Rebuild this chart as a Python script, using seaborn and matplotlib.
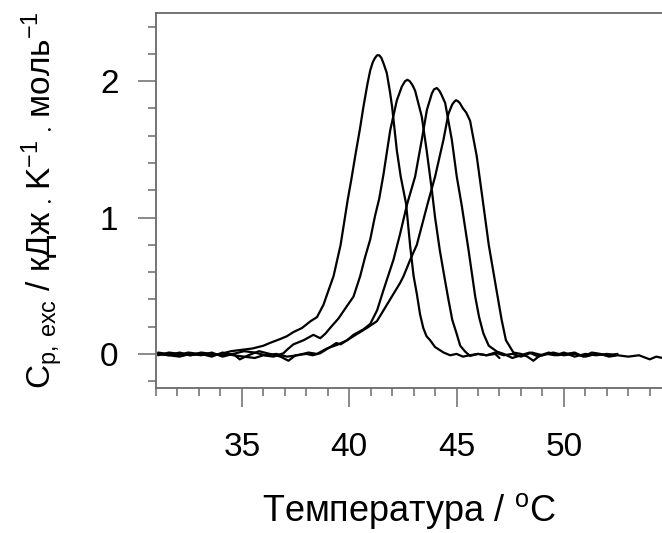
import numpy as np
import pandas as pd
import seaborn as sns
import matplotlib.pyplot as plt
from matplotlib.ticker import MultipleLocator

# DSC curves
T1 = [31.1, 31.5, 32.0, 32.5, 33.0, 33.5, 34.0, 34.5, 35.0, 35.5, 36.0, 36.3, 36.8,
      37.1, 37.4, 37.8, 38.2, 38.5, 38.8, 39.0, 39.27, 39.6, 39.93, 40.1, 40.3, 40.5,
      40.66, 40.85, 40.98, 41.1, 41.2, 41.3, 41.4, 41.5, 41.6, 41.75, 41.9, 42.0, 42.22,
      42.4, 42.65, 42.84, 43.0, 43.15, 43.3, 43.45, 43.6, 43.77, 44.0, 44.2, 44.4, 44.7,
      45.0, 45.3, 45.6, 46.0, 46.4, 46.8, 47.0]
Cp1 = [0.01, 0.0, -0.01, 0.01, 0.0, -0.01, 0.0, 0.02, 0.03, 0.04, 0.06, 0.08, 0.11,
       0.13, 0.16, 0.19, 0.24, 0.27, 0.36, 0.45, 0.57, 0.80, 1.13, 1.28, 1.47, 1.65,
       1.81, 1.98, 2.08, 2.14, 2.17, 2.19, 2.19, 2.17, 2.13, 2.06, 1.92, 1.81, 1.49,
       1.30, 1.10, 0.79, 0.57, 0.44, 0.29, 0.19, 0.13, 0.10, 0.05, 0.03, 0.01, -0.01,
       0.0, -0.02, -0.01, 0.0, -0.01, 0.0, -0.03]

T2 = [31.1, 31.6, 32.1, 32.6, 33.1, 33.6, 34.1, 34.6, 35.1, 35.6, 36.0, 36.47, 36.94,
      37.1, 37.4, 37.87, 38.1, 38.33, 38.65, 38.9, 39.11, 39.5, 39.89, 40.2, 40.51,
      40.74, 40.98, 41.2, 41.4, 41.6, 41.91, 42.22, 42.45, 42.6, 42.71, 42.82, 42.95,
      43.07, 43.38, 43.61, 43.85, 44.0, 44.22, 44.45, 44.62, 44.8, 45.0, 45.17, 45.4,
      45.63, 46.0, 46.4, 46.8, 47.2, 47.6, 48.0, 48.5, 49.0, 49.5, 50.0, 50.5, 51.0,
      51.5, 52.0, 52.5]
Cp2 = [0.0, -0.01, 0.01, -0.01, 0.0, -0.02, 0.01, -0.01, -0.02, -0.03, -0.01, -0.02,
       0.005, 0.03, 0.07, 0.10, 0.12, 0.14, 0.115, 0.15, 0.19, 0.26, 0.35, 0.42, 0.57,
       0.71, 0.84, 1.01, 1.14, 1.32, 1.64, 1.86, 1.96, 2.00, 2.01, 2.00, 1.97,
       1.93, 1.74, 1.49, 1.20, 1.00, 0.76, 0.55, 0.40, 0.25, 0.15, 0.06, 0.017,
       -0.015, 0.0, -0.01, 0.01, -0.01, 0.0, -0.02, 0.01, -0.01, 0.01, -0.01, 0.0, -0.02,
       0.0, -0.01, 0.0]

T3 = [31.1, 31.6, 32.1, 32.6, 33.1, 33.6, 34.1, 34.6, 35.1, 35.6, 36.1, 36.6, 37.1,
      37.6, 38.1, 38.5, 38.96, 39.43, 39.9, 40.2, 40.66, 40.98, 41.3, 41.6, 42.06,
      42.37, 42.7, 43.07, 43.38, 43.62, 43.85, 43.95, 44.08, 44.2, 44.3, 44.47, 44.78,
      45.01, 45.25, 45.56, 45.87, 46.05, 46.25, 46.5, 46.88, 47.2, 47.6, 48.0, 48.4,
      48.8, 49.2, 49.6, 50.0, 50.5, 51.0, 51.5, 52.0, 52.4]
Cp3 = [-0.01, 0.01, 0.0, -0.01, 0.01, 0.0, -0.01, 0.0, 0.02, 0.01, -0.01, 0.0, -0.02,
       -0.01, 0.01, 0.0, 0.04, 0.066, 0.10, 0.14, 0.18, 0.22, 0.32, 0.47, 0.69,
       0.88, 1.10, 1.30, 1.57, 1.79, 1.91, 1.94, 1.95, 1.93, 1.90, 1.84, 1.57,
       1.30, 1.08, 0.76, 0.42, 0.27, 0.15, 0.06, 0.017, 0.0, -0.03, -0.01, 0.01,
       -0.02, 0.0, -0.01, 0.01, -0.02, 0.0, -0.01, 0.0, -0.01]

T4 = [31.1, 31.6, 32.1, 32.6, 33.1, 33.6, 34.1, 34.6, 34.9, 35.3, 35.8, 36.3, 36.8,
      37.17, 37.5, 38.0, 38.3, 38.65, 39.11, 39.4, 39.6, 40.2, 40.82, 41.29, 41.6,
      42.06, 42.37, 42.53, 42.84, 43.15, 43.4, 43.65, 44.0, 44.39, 44.62, 44.8, 44.9,
      44.97, 45.05, 45.15, 45.3, 45.45, 45.63, 45.94, 46.2, 46.5, 46.88, 47.1, 47.3,
      47.65, 48.0, 48.3, 48.58, 48.9, 49.3, 49.7, 50.1, 50.5, 50.9, 51.3, 51.7, 52.1,
      52.5, 53.0, 53.5, 54.0, 54.3, 54.6]
Cp4 = [0.0, -0.01, -0.02, 0.0, -0.01, 0.01, -0.02, 0.0, -0.04, -0.01, 0.02, 0.0, -0.02,
       -0.05, -0.01, 0.0, -0.01, 0.005, 0.05, 0.08, 0.07, 0.13, 0.19, 0.24, 0.32,
       0.44, 0.52, 0.57, 0.69, 0.80, 0.95, 1.10, 1.30, 1.57, 1.76, 1.83, 1.85,
       1.86, 1.855, 1.84, 1.80, 1.77, 1.71, 1.45, 1.15, 0.80, 0.45, 0.25, 0.10,
       0.01, 0.0, -0.02, -0.05, -0.01, 0.01, -0.01, 0.0, 0.01, -0.02, 0.01, 0.0, -0.02,
       -0.01, -0.02, -0.01, -0.04, -0.02, -0.03]

curves = [(T1, Cp1), (T2, Cp2), (T3, Cp3), (T4, Cp4)]

sns.set_theme(style="white")
plt.rcParams['font.family'] = ['Liberation Sans', 'DejaVu Sans']
plt.rcParams['mathtext.default'] = 'regular'
plt.rcParams['text.color'] = 'black'
plt.rcParams['axes.labelcolor'] = 'black'

fig = plt.figure(figsize=(6.62, 5.33), dpi=100)
ax = fig.add_axes([156 / 662, 1 - 388 / 533, 1 - 156 / 662, (388 - 13) / 533])

for t, cp in curves:
    df = pd.DataFrame({"T": t, "Cp": cp})
    sns.lineplot(data=df, x="T", y="Cp", color="black", lw=1.6,
                 estimator=None, sort=False, ax=ax)

ax.set_xlim(31.0, 54.57)
ax.set_ylim(-0.25, 2.5)
ax.xaxis.set_major_locator(MultipleLocator(5))
ax.xaxis.set_minor_locator(MultipleLocator(1))
ax.yaxis.set_major_locator(MultipleLocator(1))
ax.yaxis.set_minor_locator(MultipleLocator(0.2))

spine_col = "#6a6a6a"
ax.spines["right"].set_visible(False)
for s in ["left", "bottom", "top"]:
    ax.spines[s].set_color(spine_col)
    ax.spines[s].set_linewidth(1.3)

ax.tick_params(axis="x", which="major", direction="out", length=13.5, width=1.1,
               color=spine_col, labelcolor="black", labelsize=24, pad=18, bottom=True)
ax.tick_params(axis="x", which="minor", direction="out", length=6, width=1.1,
               color=spine_col, bottom=True)
ax.tick_params(axis="y", which="major", direction="out", length=13, width=1.1,
               color=spine_col, labelcolor="black", labelsize=24, pad=14, left=True)
ax.tick_params(axis="y", which="minor", direction="out", length=6, width=1.1,
               color=spine_col, left=True)

ax.set_xlabel("Температура / $^{o}$C", fontsize=26, labelpad=20)
ax.set_ylabel("C$_{p,\\,exc}$ / кДж$\\:_{\\cdot}\\:$K$^{-1}$$\\:_{\\cdot}\\:$моль$^{-1}$",
              fontsize=24, labelpad=25)

fig.savefig("out.png", dpi=100)
